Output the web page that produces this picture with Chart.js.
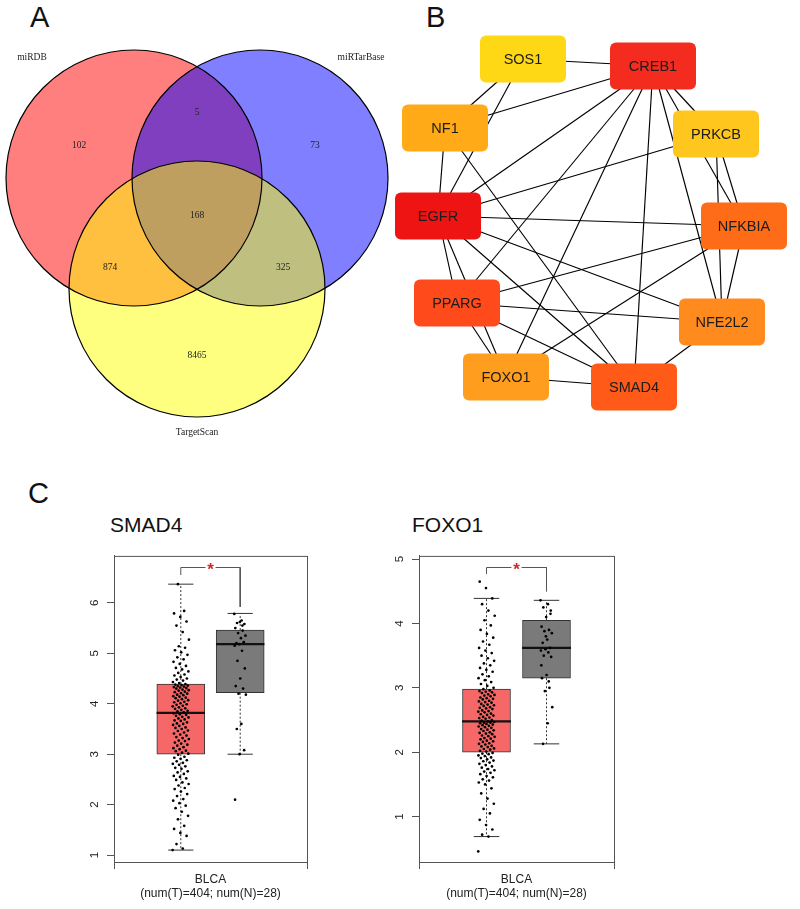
<!DOCTYPE html>
<html>
<head>
<meta charset="utf-8">
<script src="https://cdn.jsdelivr.net/npm/chart.js@4.4.0/dist/chart.umd.min.js"></script>
<style>
  body { margin: 0; background: #fff; width: 800px; height: 909px; position: relative; overflow: hidden;
         font-family: "Liberation Sans", Arial, sans-serif; }
  canvas { position: absolute; }
  .letter { position: absolute; font-size: 29px; line-height: 1; color: #111; }
  .title { position: absolute; font-size: 21px; line-height: 1; color: #111; }
</style>
</head>
<body>
<div class="letter" style="left:30px;top:3px">A</div>
<div class="letter" style="left:426px;top:3px">B</div>
<div class="letter" style="left:28px;top:479px">C</div>
<div class="title" style="left:110px;top:514px">SMAD4</div>
<div class="title" style="left:412px;top:514px">FOXO1</div>

<canvas id="venn" width="400" height="460" style="left:0;top:0"></canvas>
<canvas id="net" width="420" height="400" style="left:380px;top:20px"></canvas>
<canvas id="boxSmad" width="300" height="365" style="left:60px;top:540px"></canvas>
<canvas id="boxFoxo" width="300" height="365" style="left:365px;top:540px"></canvas>

<script>
// ---------- A: Venn ----------
const vennSets = ['miRDB', 'miRTarBase', 'TargetScan'];
const vennCx = [134, 260, 197];
const vennCy = [178, 178, 289];
const vennR = 128;
// miRDB only, miRTarBase only, TargetScan only, miRDB&miRTarBase, miRDB&TargetScan, miRTarBase&TargetScan, all
const vennCounts = [102, 73, 8465, 5, 874, 325, 168];

// ---------- B: network ----------
const genes = ['SOS1', 'CREB1', 'NF1', 'PRKCB', 'EGFR', 'NFKBIA', 'PPARG', 'NFE2L2', 'FOXO1', 'SMAD4'];
const geneX = [143, 273, 65, 336, 58, 364, 77, 342, 126, 254];
const geneY = [39, 46, 108, 114, 196, 206, 283, 302, 357, 367];
const geneColors = ['#FFD815', '#F42C1F', '#FFAA16', '#FFC71E', '#EE1414', '#FF6C17', '#FF4A1C', '#FF8A1E', '#FF9E1E', '#FF5A18'];
const edges = [
  ['SOS1', 'CREB1'], ['SOS1', 'NF1'], ['SOS1', 'EGFR'],
  ['NF1', 'CREB1'], ['NF1', 'EGFR'], ['NF1', 'SMAD4'],
  ['CREB1', 'PRKCB'], ['CREB1', 'NFKBIA'], ['CREB1', 'NFE2L2'], ['CREB1', 'SMAD4'],
  ['CREB1', 'FOXO1'], ['CREB1', 'PPARG'], ['CREB1', 'EGFR'],
  ['PRKCB', 'EGFR'], ['PRKCB', 'NFKBIA'], ['PRKCB', 'NFE2L2'],
  ['EGFR', 'NFKBIA'], ['EGFR', 'NFE2L2'], ['EGFR', 'PPARG'], ['EGFR', 'FOXO1'], ['EGFR', 'SMAD4'],
  ['NFKBIA', 'NFE2L2'], ['NFKBIA', 'PPARG'], ['NFKBIA', 'FOXO1'],
  ['PPARG', 'NFE2L2'], ['PPARG', 'SMAD4'], ['PPARG', 'FOXO1'],
  ['FOXO1', 'SMAD4'], ['NFE2L2', 'SMAD4']
];

// ---------- C: box plots ----------
const xLabel = ['BLCA', '(num(T)=404; num(N)=28)'];
// [lower whisker, q1, median, q3, upper whisker]
const smadTumorBox = [1.10, 3.00, 3.82, 4.39, 6.37];
const smadNormalBox = [3.00, 4.22, 5.18, 5.46, 5.79];
const smadTicks = [1, 2, 3, 4, 5, 6];
const smadBracket = [6.70, 6.55, 5.92];   // top, left leg end, right leg end
const smadTumor = [1.10, 1.13, 1.22, 1.38, 1.44, 1.52, 1.58, 1.71, 1.78, 1.86, 1.93, 1.98,
  2.03, 2.08, 2.11, 2.17, 2.21, 2.26, 2.31, 2.33, 2.38, 2.41, 2.44, 2.49, 2.52, 2.55, 2.57, 2.61,
  2.64, 2.66, 2.71, 2.73, 2.76, 2.79, 2.81, 2.83, 2.86, 2.88, 2.91, 2.93, 2.95, 2.99,
  3.01, 3.03, 3.06, 3.07, 3.10, 3.12, 3.14, 3.17, 3.19, 3.21, 3.23, 3.26, 3.27, 3.30, 3.32, 3.34,
  3.37, 3.39, 3.41, 3.43, 3.46, 3.47, 3.50, 3.52, 3.53, 3.56, 3.58, 3.60, 3.61, 3.63, 3.66, 3.67,
  3.69, 3.71, 3.73, 3.74, 3.76, 3.78, 3.79, 3.81,
  3.83, 3.85, 3.86, 3.88, 3.90, 3.91, 3.93, 3.95, 3.96, 3.98, 3.99, 4.01, 4.03, 4.04, 4.06, 4.07,
  4.09, 4.11, 4.12, 4.14, 4.15, 4.17, 4.18, 4.20, 4.21, 4.23, 4.24, 4.26, 4.27, 4.28, 4.30, 4.31,
  4.32, 4.33, 4.34, 4.35, 4.36, 4.37, 4.38, 4.39,
  4.41, 4.43, 4.46, 4.48, 4.50, 4.53, 4.56, 4.58, 4.61, 4.64, 4.68, 4.71, 4.75, 4.79, 4.83, 4.88,
  4.92, 4.97, 5.02, 5.06, 5.11, 5.14, 5.27, 5.42, 5.55, 5.63, 5.72, 5.79, 5.84, 6.37];
const smadNormal = [5.78, 5.65, 5.60, 5.58, 5.62, 5.50, 5.45, 5.40, 5.35, 5.30, 5.20, 5.22, 5.18, 5.15,
  5.05, 4.85, 4.70, 4.50, 4.35, 4.30, 4.20, 4.18, 3.60, 3.50, 3.08, 3.00, 2.10, 5.55];

const foxoTumorBox = [0.69, 2.00, 2.48, 2.98, 4.39];
const foxoNormalBox = [2.13, 3.15, 3.62, 4.05, 4.36];
const foxoTicks = [1, 2, 3, 4, 5];
const foxoBracket = [4.87, 4.77, 4.50];
const foxoTumor = [0.46, 0.69, 0.72, 0.80, 0.87, 0.95, 1.05, 1.12, 1.20, 1.28, 1.36, 1.44,
  1.50, 1.53, 1.56, 1.58, 1.61, 1.63, 1.66, 1.68, 1.70, 1.72, 1.74, 1.76, 1.78, 1.80, 1.82, 1.84,
  1.86, 1.87, 1.89, 1.91, 1.92, 1.94, 1.95, 1.97, 1.98, 1.99,
  2.01, 2.02, 2.04, 2.05, 2.06, 2.08, 2.09, 2.10, 2.12, 2.13, 2.14, 2.16, 2.17, 2.18, 2.20, 2.21,
  2.22, 2.24, 2.25, 2.26, 2.28, 2.29, 2.30, 2.31, 2.33, 2.34, 2.35, 2.36, 2.38, 2.39, 2.40, 2.41,
  2.42, 2.43, 2.44, 2.45, 2.46, 2.46, 2.47, 2.48,
  2.49, 2.50, 2.52, 2.53, 2.54, 2.55, 2.57, 2.58, 2.59, 2.60, 2.62, 2.63, 2.64, 2.65, 2.67, 2.68,
  2.69, 2.70, 2.72, 2.73, 2.74, 2.75, 2.77, 2.78, 2.79, 2.80, 2.82, 2.83, 2.84, 2.85, 2.87, 2.88,
  2.89, 2.90, 2.92, 2.93, 2.94, 2.95, 2.96, 2.98,
  3.00, 3.03, 3.06, 3.09, 3.12, 3.15, 3.18, 3.21, 3.25, 3.28, 3.31, 3.35, 3.38, 3.42, 3.46, 3.50,
  3.54, 3.58, 3.62, 3.67, 3.72, 3.78, 3.84, 3.90, 3.97, 4.05, 4.12, 4.20, 4.30, 4.39, 4.55, 4.65];
const foxoNormal = [4.36, 4.30, 4.25, 4.20, 4.10, 3.95, 3.90, 3.88, 3.85, 3.75, 3.70, 3.62, 3.60, 3.58,
  3.55, 3.50, 3.48, 3.20, 3.15, 3.00, 2.95, 2.70, 2.45, 2.13, 4.15, 3.80, 3.35, 3.10];

// ==========================================
// Venn (panel A)
// ==========================================
const vennRegionPos = [[79, 145], [315, 145], [197, 355], [197, 112], [110, 267], [283, 267], [197, 215]];
const vennNamePos = [[32, 57], [361, 57], [197, 432]];

const radiusPx = (chart, r) => {
  const s = chart.scales.x;
  return Math.abs(s.getPixelForValue(r) - s.getPixelForValue(0));
};

const vennText = {
  id: 'vennText',
  afterDatasetsDraw(chart) {
    const { ctx, scales: { x, y } } = chart;
    ctx.save();
    ctx.fillStyle = '#222';
    ctx.font = '9.5px "Liberation Serif", "Times New Roman", serif';
    ctx.textAlign = 'center';
    ctx.textBaseline = 'middle';
    vennCounts.forEach((c, i) => {
      ctx.fillText(c, x.getPixelForValue(vennRegionPos[i][0]), y.getPixelForValue(vennRegionPos[i][1]));
    });
    vennSets.forEach((n, i) => {
      ctx.fillText(n, x.getPixelForValue(vennNamePos[i][0]), y.getPixelForValue(vennNamePos[i][1]));
    });
    ctx.restore();
  }
};

const circlePts = vennCx.map((cx, i) => ({ x: cx, y: vennCy[i] }));
new Chart(document.getElementById('venn'), {
  type: 'scatter',
  data: {
    datasets: [
      { // outlines on top
        data: circlePts, order: 0,
        backgroundColor: 'rgba(0,0,0,0)', borderColor: '#000', borderWidth: 1.2,
        pointRadius: c => radiusPx(c.chart, vennR), pointHoverRadius: c => radiusPx(c.chart, vennR)
      },
      {
        data: circlePts, order: 1,
        backgroundColor: ['rgba(255,0,0,0.5)', 'rgba(0,0,255,0.5)', 'rgba(255,255,0,0.5)'],
        borderWidth: 0,
        pointRadius: c => radiusPx(c.chart, vennR), pointHoverRadius: c => radiusPx(c.chart, vennR)
      }
    ]
  },
  options: {
    responsive: false, animation: false, events: [],
    layout: { padding: 0 },
    scales: {
      x: { type: 'linear', display: false, min: 0, max: 400 },
      y: { type: 'linear', display: false, min: 0, max: 460, reverse: true }
    },
    plugins: { legend: { display: false }, tooltip: { enabled: false } }
  },
  plugins: [vennText]
});

// ==========================================
// Network (panel B)
// ==========================================
const nodeBoxes = {
  id: 'nodeBoxes',
  afterDatasetsDraw(chart) {
    const { ctx } = chart;
    const meta = chart.getDatasetMeta(0);
    ctx.save();
    meta.data.forEach((pt, i) => {
      const w = 86, h = 47;
      ctx.beginPath();
      ctx.roundRect(pt.x - w / 2, pt.y - h / 2, w, h, 6);
      ctx.fillStyle = geneColors[i];
      ctx.fill();
      ctx.fillStyle = '#1c1c1c';
      ctx.font = '14.5px "Liberation Sans", Arial, sans-serif';
      ctx.textAlign = 'center';
      ctx.textBaseline = 'middle';
      ctx.fillText(genes[i], pt.x, pt.y + 1);
    });
    ctx.restore();
  }
};

const nodePt = g => ({ x: geneX[genes.indexOf(g)], y: geneY[genes.indexOf(g)] });
const edgeSets = edges.map(([a, b]) => ({
  data: [nodePt(a), nodePt(b)],
  showLine: true, borderColor: '#000', borderWidth: 1.15, pointRadius: 0, order: 1
}));

new Chart(document.getElementById('net'), {
  type: 'scatter',
  data: {
    datasets: [
      { data: genes.map((g, i) => ({ x: geneX[i], y: geneY[i] })), pointRadius: 0, order: 0 },
      ...edgeSets
    ]
  },
  options: {
    responsive: false, animation: false, events: [],
    layout: { padding: 0 },
    scales: {
      x: { type: 'linear', display: false, min: 0, max: 420 },
      y: { type: 'linear', display: false, min: 0, max: 400, reverse: true }
    },
    plugins: { legend: { display: false }, tooltip: { enabled: false } }
  },
  plugins: [nodeBoxes]
});

// ==========================================
// Box plots (panel C)
// ==========================================
const jit = i => ((i * 0.6180339887) % 1) - 0.5;

const seg = (pts, color, width, dash, order) => ({
  type: 'line',
  data: pts.map(p => ({ x: p[0], y: p[1] })),
  borderColor: color, borderWidth: width, borderDash: dash || [],
  pointRadius: 0, fill: false, tension: 0, order
});

const framePlugin = {
  id: 'frame',
  afterDraw(chart) {
    const { ctx, chartArea: a } = chart;
    ctx.save();
    ctx.strokeStyle = '#555';
    ctx.lineWidth = 1;
    ctx.strokeRect(a.left + 0.5, a.top + 0.5, a.right - a.left, a.bottom - a.top);
    ctx.restore();
  }
};

function boxChart(id, tumorBox, normalBox, tumor, normal, ticks, yMin, yMax, bracket, padTop, padRight) {
  const cT = 0.8, cN = 1.2, hw = 0.163, cap = 0.085;
  const sets = [];
  // jitter points
  sets.push({ type: 'scatter', data: tumor.map((v, i) => ({ x: cT + jit(i) * 0.11, y: v })),
    backgroundColor: '#000', borderWidth: 0, pointRadius: 1.35, order: 0 });
  sets.push({ type: 'scatter', data: normal.map((v, i) => ({ x: cN + jit(i) * 0.08, y: v })),
    backgroundColor: '#000', borderWidth: 0, pointRadius: 1.35, order: 0 });
  // medians, whiskers, caps
  [[cT, tumorBox], [cN, normalBox]].forEach(([c, b]) => {
    sets.push(seg([[c - hw, b[2]], [c + hw, b[2]]], '#111', 2.2, null, 1));
    sets.push(seg([[c, b[3]], [c, b[4]]], '#333', 1, [2, 2], 2));
    sets.push(seg([[c, b[1]], [c, b[0]]], '#333', 1, [2, 2], 2));
    sets.push(seg([[c - cap, b[4]], [c + cap, b[4]]], '#333', 1, null, 2));
    sets.push(seg([[c - cap, b[0]], [c + cap, b[0]]], '#333', 1, null, 2));
  });
  // significance bracket
  sets.push(seg([[cT, bracket[1]], [cT, bracket[0]], [0.966, bracket[0]]], '#555', 1, null, 2));
  sets.push(seg([[1.034, bracket[0]], [cN, bracket[0]], [cN, bracket[2]]], '#555', 1, null, 2));
  // boxes
  sets.push({ type: 'bar',
    data: [{ x: cT, y: [tumorBox[1], tumorBox[3]] }, { x: cN, y: [normalBox[1], normalBox[3]] }],
    backgroundColor: ['#F66868', '#7A7A7A'], borderColor: '#333', borderWidth: 1,
    borderSkipped: false, barThickness: 48, order: 3 });

  const starPlugin = {
    id: 'star',
    afterDatasetsDraw(chart) {
      const { ctx, scales: { x, y } } = chart;
      ctx.save();
      ctx.fillStyle = '#D02828';
      ctx.font = 'bold 17px "Liberation Sans", Arial, sans-serif';
      ctx.textAlign = 'center';
      ctx.textBaseline = 'middle';
      ctx.fillText('*', x.getPixelForValue(1), y.getPixelForValue(bracket[0]) + 3);
      ctx.restore();
    }
  };

  new Chart(document.getElementById(id), {
    type: 'bar',
    data: { datasets: sets },
    options: {
      responsive: false, animation: false, events: [],
      layout: { padding: { top: padTop, right: padRight, left: 0, bottom: 0 } },
      scales: {
        x: {
          type: 'linear', min: 0.35, max: 1.65, offset: false,
          afterBuildTicks: s => { s.ticks = [{ value: 1 }]; },
          afterFit: s => { s.height = 43; },
          grid: { drawOnChartArea: false, drawTicks: true, tickLength: 7, color: '#555' },
          border: { display: true, color: '#555' },
          ticks: { callback: () => xLabel, color: '#222', padding: 3,
            font: { family: '"Liberation Sans", Arial, sans-serif', size: 12 } }
        },
        y: {
          type: 'linear', min: yMin, max: yMax,
          afterBuildTicks: s => { s.ticks = ticks.map(v => ({ value: v })); },
          afterFit: s => { s.width = 54; },
          grid: { drawOnChartArea: false, drawTicks: true, tickLength: 7, color: '#555' },
          border: { display: true, color: '#555' },
          ticks: { minRotation: 90, maxRotation: 90, crossAlign: 'center', padding: 9, color: '#222',
            font: { family: '"Liberation Sans", Arial, sans-serif', size: 11.5 } }
        }
      },
      plugins: { legend: { display: false }, tooltip: { enabled: false } }
    },
    plugins: [framePlugin, starPlugin]
  });
}

boxChart('boxSmad', smadTumorBox, smadNormalBox, smadTumor, smadNormal, smadTicks, 0.864, 6.93, smadBracket, 10, 53);
boxChart('boxFoxo', foxoTumorBox, foxoNormalBox, foxoTumor, foxoNormal, foxoTicks, 0.295, 5.05, foxoBracket, 12, 51);
</script>
</body>
</html>
